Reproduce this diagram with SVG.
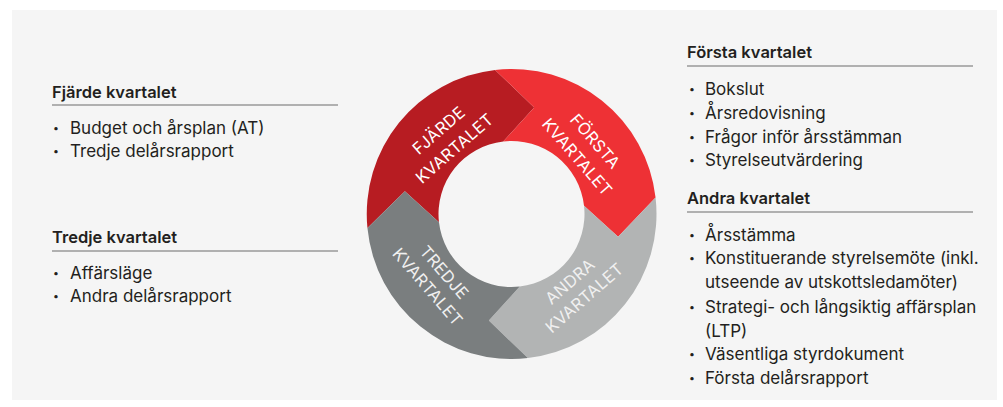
<svg xmlns="http://www.w3.org/2000/svg" width="1003" height="407" viewBox="0 0 1003 407">
<style>
.h{font-family:Inter,"Noto Sans",sans-serif;font-weight:600;font-size:16.5px;fill:#231f20}
.t{font-family:Inter,"Noto Sans",sans-serif;font-size:17px;fill:#231f20}
.b{font-family:Inter,"Noto Sans",sans-serif;font-size:10.5px;fill:#231f20}
.rule{stroke:#999999;stroke-width:1.6}
.lab{font-family:Inter,"Open Sans",sans-serif;font-size:16.5px;letter-spacing:0.3px;fill:#ffffff;text-anchor:middle}
.lab2{font-family:Inter,"Open Sans",sans-serif;font-size:16.5px;letter-spacing:0.3px;fill:#f0f0f0;text-anchor:middle}
</style>
<rect x="0" y="0" width="1003" height="407" fill="#ffffff"/>
<rect x="12" y="10" width="985" height="390" fill="#f5f5f5"/>
<g id="ring">
<g id="q4">
<path d="M367.43,228 A145,145 0 0 1 495.09,69.93 L534.16,107.38 L503.24,141.47 A73,73 0 0 0 438.97,222.26 L404.88,191.34 Z" fill="#b71c22"/>
<text class="lab" y="6" transform="translate(438.7,130.2) rotate(-41)">FJÄRDE</text>
<text class="lab" y="6" transform="translate(454.4,148.3) rotate(-41)">KVARTALET</text>
</g>
<g id="q1">
<path d="M495.09,69.93 A145,145 0 0 1 655.57,197.59 L618.12,236.66 L584.03,205.74 A73,73 0 0 0 503.24,141.47 L534.16,107.38 Z" fill="#ee3135"/>
<text class="lab" y="6" transform="translate(595.3,141.2) rotate(49)">FÖRSTA</text>
<text class="lab" y="6" transform="translate(577.2,156.9) rotate(49)">KVARTALET</text>
</g>
<g id="q2">
<path d="M655.57,197.59 A145,145 0 0 1 527.91,358.07 L488.84,320.62 L519.76,286.53 A73,73 0 0 0 584.03,205.74 L618.12,236.66 Z" fill="#b2b4b4"/>
<text class="lab2" y="6" transform="translate(569.9,281.2) rotate(-41)">ANDRA</text>
<text class="lab2" y="6" transform="translate(584.3,297.8) rotate(-41)">KVARTALET</text>
</g>
<g id="q3">
<path d="M527.91,358.07 A145,145 0 0 1 367.43,228 L404.88,191.34 L438.97,222.26 A73,73 0 0 0 519.76,286.53 L488.84,320.62 Z" fill="#7a7e7f"/>
<text class="lab2" y="6" transform="translate(444.3,272.4) rotate(49)">TREDJE</text>
<text class="lab2" y="6" transform="translate(427.7,286.8) rotate(49)">KVARTALET</text>
</g>
</g>
<g id="left-q4">
<text class="h" x="52" y="98">Fjärde kvartalet</text>
<line class="rule" x1="52" y1="105" x2="338" y2="105"/>
<text class="b" x="53" y="132">•</text><text class="t" x="70" y="134">Budget och årsplan (AT)</text>
<text class="b" x="53" y="155">•</text><text class="t" x="70" y="157">Tredje delårsrapport</text>
</g>
<g id="left-q3">
<text class="h" x="52" y="243">Tredje kvartalet</text>
<line class="rule" x1="52" y1="251" x2="338" y2="251"/>
<text class="b" x="53" y="277">•</text><text class="t" x="70" y="279">Affärsläge</text>
<text class="b" x="53" y="300">•</text><text class="t" x="70" y="302">Andra delårsrapport</text>
</g>
<g id="right-q1">
<text class="h" x="687" y="58">Första kvartalet</text>
<line class="rule" x1="687" y1="66" x2="973" y2="66"/>
<text class="b" x="689" y="93">•</text><text class="t" x="705" y="95">Bokslut</text>
<text class="b" x="689" y="117">•</text><text class="t" x="705" y="119">Årsredovisning</text>
<text class="b" x="689" y="141">•</text><text class="t" x="705" y="143">Frågor inför årsstämman</text>
<text class="b" x="689" y="164">•</text><text class="t" x="705" y="166">Styrelseutvärdering</text>
</g>
<g id="right-q2">
<text class="h" x="687" y="204">Andra kvartalet</text>
<line class="rule" x1="687" y1="212" x2="973" y2="212"/>
<text class="b" x="689" y="239">•</text><text class="t" x="705" y="241">Årsstämma</text>
<text class="b" x="689" y="262">•</text><text class="t" x="705" y="264">Konstituerande styrelsemöte (inkl.</text>
<text class="t" x="705" y="288">utseende av utskottsledamöter)</text>
<text class="b" x="689" y="311">•</text><text class="t" x="705" y="313">Strategi- och långsiktig affärsplan</text>
<text class="t" x="705" y="337">(LTP)</text>
<text class="b" x="689" y="358">•</text><text class="t" x="705" y="360">Väsentliga styrdokument</text>
<text class="b" x="689" y="382">•</text><text class="t" x="705" y="384">Första delårsrapport</text>
</g>
</svg>
